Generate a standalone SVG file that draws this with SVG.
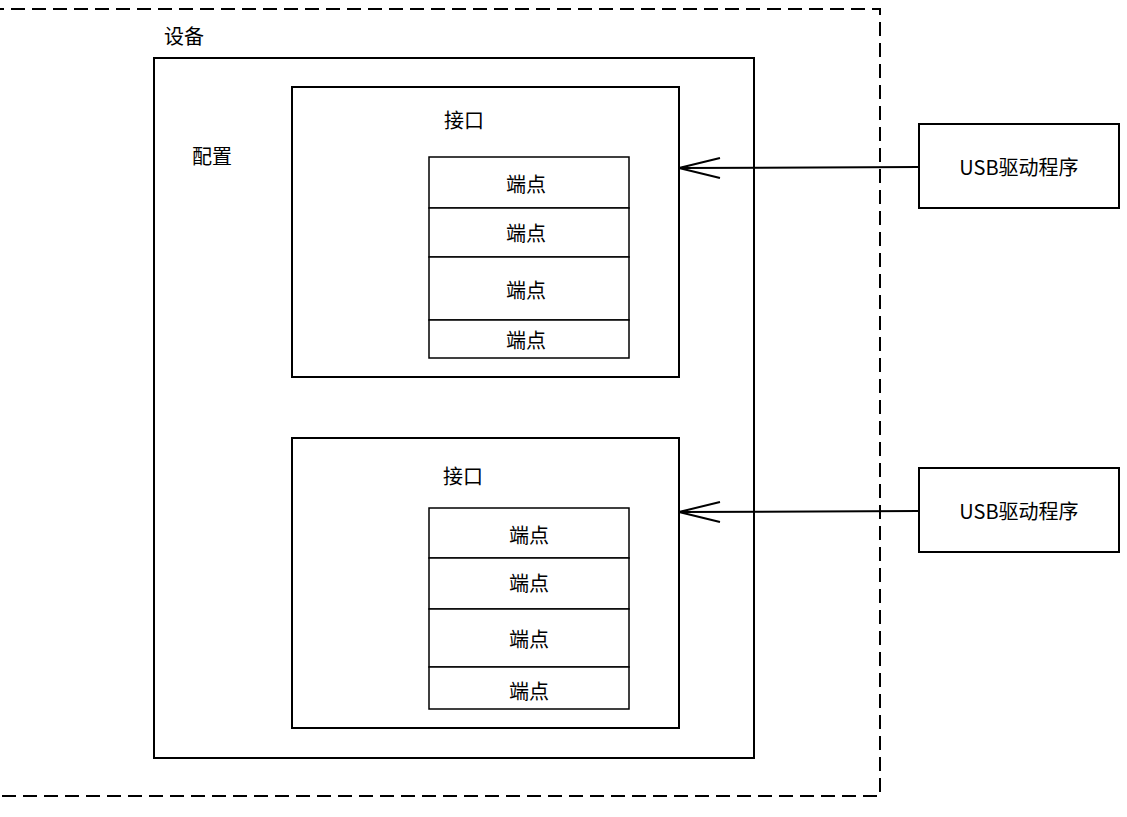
<svg xmlns="http://www.w3.org/2000/svg" width="1127" height="817" viewBox="0 0 1127 817">
<style>
.box{fill:#fff;stroke:#000;stroke-width:2}
.ep{fill:#fff;stroke:#000;stroke-width:1.5}
.t{font-family:"Noto Sans CJK SC","Noto Sans",sans-serif;font-size:20px;fill:#000}
.c{text-anchor:middle;dominant-baseline:central}
.conn{fill:none;stroke:#000;stroke-width:2}
</style>
<rect x="-10" y="9" width="890" height="787" fill="none" stroke="#000" stroke-width="2" stroke-dasharray="14,7"/>
<text class="t" x="164" y="44">设备</text>
<g id="device">
<rect class="box" x="154" y="58" width="600" height="700"/>
<text class="t" x="192" y="164">配置</text>
</g>
<g id="iface1">
<rect class="box" x="292" y="87" width="387" height="290"/>
<text class="t" x="444" y="128">接口</text>
</g>
<g id="ep1">
<rect class="ep" x="429" y="157" width="200" height="51"/>
<text class="t c" x="526" y="183">端点</text>
<rect class="ep" x="429" y="208" width="200" height="49"/>
<text class="t c" x="526" y="232">端点</text>
<rect class="ep" x="429" y="257" width="200" height="63"/>
<text class="t c" x="526" y="289">端点</text>
<rect class="ep" x="429" y="320" width="200" height="38"/>
<text class="t c" x="526" y="339">端点</text>
</g>
<g id="iface2">
<rect class="box" x="292" y="438" width="387" height="290"/>
<text class="t" x="443" y="484">接口</text>
</g>
<g id="ep2">
<rect class="ep" x="429" y="508" width="200" height="50"/>
<text class="t c" x="529" y="534">端点</text>
<rect class="ep" x="429" y="558" width="200" height="51"/>
<text class="t c" x="529" y="582">端点</text>
<rect class="ep" x="429" y="609" width="200" height="58"/>
<text class="t c" x="529" y="638">端点</text>
<rect class="ep" x="429" y="667" width="200" height="42"/>
<text class="t c" x="529" y="690">端点</text>
</g>
<g id="usb1">
<rect class="box" x="919" y="124" width="200" height="84"/>
<text class="t c" x="1019" y="166">USB驱动程序</text>
</g>
<g id="usb2">
<rect class="box" x="919" y="468" width="200" height="84"/>
<text class="t c" x="1019" y="510">USB驱动程序</text>
</g>
<g id="connectors">
<path class="conn" d="M919,167 L679,168 M720,158 L679,168 L720,178"/>
<path class="conn" d="M919,511 L679,512 M720,502 L679,512 L720,522"/>
</g>
</svg>
